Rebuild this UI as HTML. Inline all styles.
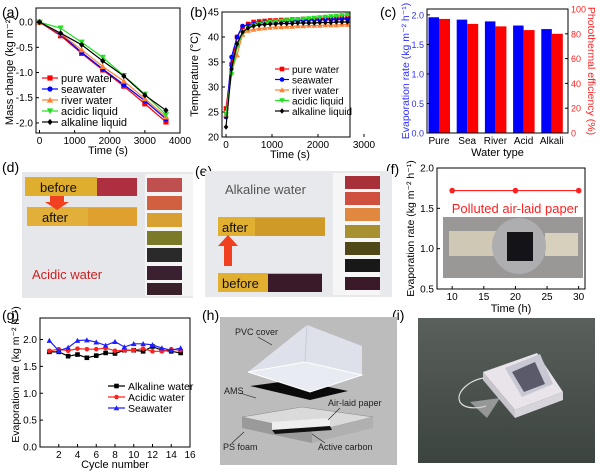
<!DOCTYPE html>
<html><head><meta charset="utf-8">
<style>
html,body{margin:0;padding:0;background:#fff;}
svg{display:block;font-family:"Liberation Sans",Arial,sans-serif;}
</style></head>
<body>
<svg id="fig" width="600" height="472" viewBox="0 0 600 472" xmlns="http://www.w3.org/2000/svg">
<defs>
<linearGradient id="gi" x1="0" y1="0" x2="0" y2="1"><stop offset="0" stop-color="#5a605c"/><stop offset="1" stop-color="#3c4440"/></linearGradient>
</defs>
<!-- panel labels -->
<g font-size="14" fill="#000">
<text x="2" y="17">(a)</text>
<text x="190" y="17">(b)</text>
<text x="380" y="17">(c)</text>
<text x="2" y="172">(d)</text>
<text x="195" y="176">(e)</text>
<text x="386" y="174">(f)</text>
<text x="2" y="320">(g)</text>
<text x="202" y="320">(h)</text>
<text x="392" y="320">(i)</text>
</g>

<!-- panel d photo -->
<g>
<rect x="22" y="172" width="171" height="126" fill="#e6e7ea"/>
<rect x="25" y="177" width="72" height="19" fill="#e0ae2e"/>
<rect x="97" y="178" width="40" height="18" fill="#ae3040"/>
<rect x="27" y="207" width="110" height="19" fill="#e2b038"/>
<rect x="88" y="208" width="49" height="18" fill="#e0a030"/>
<text x="40" y="192" font-size="13" fill="#111">before</text>
<text x="42" y="222" font-size="13" fill="#111">after</text>
<polygon points="50,196 64,196 64,202 69,202 57,210 45,202 50,202" fill="#f04020"/>
<rect x="145" y="174" width="48" height="122" fill="#f4f4f4"/>
<rect x="147" y="178" width="35" height="14" fill="#c05050"/>
<rect x="147" y="196" width="35" height="14" fill="#d06040"/>
<rect x="147" y="213" width="35" height="14" fill="#d8a030"/>
<rect x="147" y="231" width="35" height="14" fill="#7a7a28"/>
<rect x="147" y="248" width="35" height="14" fill="#2a2a2a"/>
<rect x="147" y="266" width="35" height="14" fill="#3a2030"/>
<rect x="147" y="283" width="35" height="12" fill="#3a2028"/>
<text x="32" y="279" font-size="13" fill="#d02020">Acidic water</text>
</g>

<!-- panel e photo -->
<g>
<rect x="205" y="171" width="187" height="126" fill="#e8e9ec"/>
<text x="225" y="194" font-size="13" fill="#555">Alkaline water</text>
<rect x="218" y="217" width="107" height="19" fill="#e2b030"/>
<rect x="255" y="218" width="70" height="18" fill="#d09a28"/>
<text x="222" y="232" font-size="13" fill="#111">after</text>
<rect x="218" y="273" width="104" height="19" fill="#e2b030"/>
<rect x="268" y="274" width="54" height="18" fill="#3a1a28"/>
<text x="222" y="288" font-size="13" fill="#111">before</text>
<polygon points="224,266 232,266 232,246 238,246 228,235 218,246 224,246" fill="#f04020"/>
<rect x="333" y="173" width="47" height="122" fill="#f6f6f6"/>
<rect x="345" y="176" width="35" height="13" fill="#a83038"/>
<rect x="345" y="192" width="35" height="13" fill="#d05040"/>
<rect x="345" y="208" width="35" height="13" fill="#e08840"/>
<rect x="345" y="225" width="35" height="13" fill="#a89030"/>
<rect x="345" y="242" width="35" height="13" fill="#504818"/>
<rect x="345" y="259" width="35" height="13" fill="#181818"/>
<rect x="345" y="277" width="35" height="13" fill="#3a1a28"/>
</g>

<!-- panel h schematic -->
<g>
<rect x="220" y="317" width="177" height="148" fill="#bcbcbc"/>
<polygon points="242,417 302,407 373,417 312,432" fill="#dadada" stroke="#888" stroke-width="0.5"/>
<polygon points="242,417 312,432 312,443 242,428" fill="#9a9a9a"/>
<polygon points="312,432 373,417 373,428 312,443" fill="#b0b0b0"/>
<polygon points="272,422 330,418 330,426 272,430" fill="#eeeeee"/>
<polygon points="272,430 330,426 332,430 275,434" fill="#111"/>
<polygon points="250,386 295,380 348,391 310,400" fill="#0a0a0a"/>
<polygon points="248,372 307,325 362,346 362,375 310,392" fill="#dfe3ec" opacity="0.95"/>
<polygon points="248,372 310,392 362,375 305,362" fill="#e8ecf2" stroke="#fff" stroke-width="1"/>
<line x1="307" y1="325" x2="305" y2="362" stroke="#c8ccd6" stroke-width="1"/>
<g font-size="9" fill="#222">
<text x="235" y="335">PVC cover</text>
<text x="224" y="394">AMS</text>
<text x="328" y="406">Air-laid paper</text>
<text x="223" y="450">PS foam</text>
<text x="318" y="450">Active carbon</text>
</g>
<g stroke="#222" stroke-width="0.6">
<line x1="258" y1="337" x2="272" y2="345"/>
<line x1="240" y1="393" x2="256" y2="398"/>
<line x1="340" y1="408" x2="328" y2="420"/>
<line x1="232" y1="443" x2="244" y2="432"/>
<line x1="325" y1="443" x2="312" y2="434"/>
</g>
</g>

<!-- panel i photo -->
<g>
<rect x="418" y="318" width="177" height="145" fill="url(#gi)"/>
<polygon points="483,372 537,353 563,392 515,410" fill="#e8e4ea"/>
<polygon points="483,372 515,410 515,418 483,380" fill="#c8c4cc"/>
<polygon points="515,410 563,392 563,400 515,418" fill="#d8d4dc"/>
<polygon points="505,368 540,354 553,384 522,397" fill="#c8c8d4"/>
<polygon points="512,372 535,362 545,384 524,392" fill="#5a5a6a"/>
<path d="M484,378 C470,380 455,392 460,402 C465,410 480,408 486,406" stroke="#ddd" fill="none" stroke-width="1.2"/>
<polygon points="470,402 500,398 487,418" fill="#c8c8c8" opacity="0.6"/>
</g>

<!-- panel f photo inset -->
<g>
</g>
</svg>

<script>
const NS = "http://www.w3.org/2000/svg";
const svg = document.getElementById('fig');
function mk(tag, attrs, parent) {
  const e = document.createElementNS(NS, tag);
  for (const k in attrs) e.setAttribute(k, attrs[k]);
  (parent || svg).appendChild(e);
  return e;
}
function scale(d0, d1, p0, p1) { return v => p0 + (v - d0) / (d1 - d0) * (p1 - p0); }
function marker(shape, x, y, color, parent, r) {
  r = r || 3;
  let e;
  if (shape === 'square') e = mk('rect', {x: x - r, y: y - r, width: 2 * r, height: 2 * r, fill: color}, parent);
  else if (shape === 'circle') e = mk('circle', {cx: x, cy: y, r: r, fill: color}, parent);
  else if (shape === 'up') e = mk('polygon', {points: `${x},${y - r - 0.5} ${x + r + 0.5},${y + r} ${x - r - 0.5},${y + r}`, fill: color}, parent);
  else if (shape === 'down') e = mk('polygon', {points: `${x - r - 0.5},${y - r} ${x + r + 0.5},${y - r} ${x},${y + r + 0.5}`, fill: color}, parent);
  else e = mk('polygon', {points: `${x},${y - r - 0.5} ${x + r},${y} ${x},${y + r + 0.5} ${x - r},${y}`, fill: color}, parent);
  return e;
}
function txt(x, y, s, size, anchor, parent, extra) {
  const a = {x: x, y: y, 'font-size': size, 'text-anchor': anchor || 'middle', fill: '#000'};
  if (extra) for (const k in extra) a[k] = extra[k];
  const e = mk('text', a, parent);
  e.textContent = s;
  return e;
}

/* ===== Panel A data ===== */
const aTimes = [0, 600, 1200, 1800, 2400, 3000, 3600];
const aPure = [0, -0.27, -0.62, -0.95, -1.27, -1.62, -1.98];
const aSea = [0, -0.24, -0.60, -0.93, -1.24, -1.56, -1.92];
const aRiver = [0, -0.23, -0.55, -0.88, -1.17, -1.52, -1.88];
const aAcidic = [0, -0.12, -0.40, -0.70, -1.06, -1.43, -1.84];
const aAlkaline = [0, -0.22, -0.45, -0.77, -1.07, -1.45, -1.75];
const aXTicks = [0, 1000, 2000, 3000, 4000];
const aYTicks = [0, -0.5, -1.0, -1.5, -2.0];
const aYLabels = ["0.0", "-0.5", "-1.0", "-1.5", "-2.0"];
const aSeriesNames = ["pure water", "seawater", "river water", "acidic liquid", "alkaline liquid"];

/* ===== Panel B data ===== */
const bTimes = [0,120,240,360,480,600,720,840,960,1080,1200,1320,1440,1560,1680,1800,1920,2040,2160,2280,2400,2520,2640];
const bPure = [25.7,34.5,40.0,42.0,42.6,43.0,43.1,43.2,43.3,43.3,43.4,43.4,43.5,43.5,43.6,43.6,43.6,43.7,43.7,43.7,43.8,43.8,43.8];
const bSea = [24.0,36.0,40.0,42.2,42.3,42.6,42.8,42.9,43.0,43.1,43.1,43.2,43.2,43.3,43.3,43.4,43.4,43.4,43.5,43.5,43.5,43.6,43.6];
const bRiver = [24.5,33.0,36.4,40.5,41.3,41.5,41.7,41.8,41.9,42.0,42.0,42.1,42.1,42.2,42.2,42.3,42.3,42.3,42.4,42.4,42.4,42.5,42.5];
const bAcidic = [24.5,32.5,38.0,40.8,41.8,42.3,42.6,42.8,43.0,43.1,43.2,43.3,43.4,43.5,43.6,43.7,43.8,43.9,44.0,44.1,44.2,44.3,44.4];
const bAlkaline = [22.0,33.6,38.6,41.0,41.8,42.2,42.4,42.5,42.6,42.6,42.7,42.7,42.7,42.8,42.8,42.8,42.8,42.9,42.9,42.9,43.0,43.0,43.0];
const bXTicks = [0, 1000, 2000, 3000];
const bYTicks = [20, 25, 30, 35, 40, 45];

/* ===== Panel C data ===== */
const cCategories = ["Pure", "Sea", "River", "Acid", "Alkali"];
const cRate = [1.96, 1.92, 1.89, 1.82, 1.76];
const cEfficiency = [92, 88, 86, 83, 80];
const cLeftTicks = [0, 0.5, 1.0, 1.5, 2.0];
const cLeftLabels = ["0.0", "0.5", "1.0", "1.5", "2.0"];
const cRightTicks = [0, 20, 40, 60, 80, 100];

/* ===== Panel F data ===== */
const fTimes = [10, 20, 30];
const fRate = [1.72, 1.72, 1.72];
const fXTicks = [10, 15, 20, 25, 30];
const fYTicks = [0.5, 1.0, 1.5, 2.0];
const fYLabels = ["0.5", "1.0", "1.5", "2.0"];

/* ===== Panel G data ===== */
const gCycles = [1,2,3,4,5,6,7,8,9,10,11,12,13,14,15];
const gAlkaline = [1.77,1.77,1.69,1.72,1.66,1.70,1.75,1.74,1.80,1.80,1.78,1.87,1.80,1.78,1.75];
const gAcidic = [1.79,1.82,1.79,1.83,1.82,1.82,1.84,1.79,1.80,1.80,1.83,1.78,1.78,1.82,1.80];
const gSeawater = [1.98,1.79,1.85,1.98,1.99,1.95,1.89,1.96,1.86,1.92,1.92,1.90,1.84,1.80,1.84];
const gXTicks = [2,4,6,8,10,12,14,16];
const gYTicks = [0, 0.5, 1.0, 1.5, 2.0];
const gYLabels = ["0.0", "0.5", "1.0", "1.5", "2.0"];

function frame(x0, y0, x1, y1, name) {
  const r = mk('rect', {x: x0, y: y0, width: x1 - x0, height: y1 - y0, fill: 'none', stroke: '#000', 'stroke-width': 1});
  
  
}
function xTicks(ticks, labels, sx, yb, fs, g) {
  ticks.forEach((t, i) => {
    const x = sx(t);
    if (x >= 0 && x <= 600) {
      mk('line', {x1: x, y1: yb, x2: x, y2: yb - 3, stroke: '#000'}, g);
    }
    const l = txt(x, yb + 11, labels[i], fs, 'middle', g);
    
    
  });
}
function yTicks(ticks, labels, sy, xl, fs, g, side, color) {
  ticks.forEach((t, i) => {
    const y = sy(t);
    const dir = side === 'right' ? -3 : 3;
    mk('line', {x1: xl, y1: y, x2: xl + dir, y2: y, stroke: '#000'}, g);
    const l = txt(side === 'right' ? xl + 3 : xl - 3, y + 3.5, labels[i], fs, side === 'right' ? 'start' : 'end', g, color ? {fill: color} : null);
    
    
  });
}
function series(xs, ys, sx, sy, color, shape, g, name, r) {
  const pts = xs.map((x, i) => sx(x) + ',' + sy(ys[i])).join(' ');
  const pl = mk('polyline', {points: pts, fill: 'none', stroke: color, 'stroke-width': 1.2}, g);
  
  
  xs.forEach((x, i) => {
    const m = marker(shape, sx(x), sy(ys[i]), color, g, r);
    
    
  });
}
function legend(items, x, y, dy, fs, g, len, r) {
  items.forEach((it, i) => {
    const yy = y + i * dy;
    const ln = mk('line', {x1: x, y1: yy, x2: x + len, y2: yy, stroke: it.c, 'stroke-width': 1.2}, g);
    
    
    marker(it.s, x + len / 2, yy, it.c, g, r);
    const t = txt(x + len + 3, yy + 4, it.n, fs, 'start', g);
    
    
  });
}

/* ===== Panel A ===== */
(function () {
  const g = mk('g', {});
  
  
  const X0 = 36, X1 = 180, Y0 = 8, Y1 = 133;
  const sx = scale(-100, 4000, X0, X1), sy = scale(0.28, -2.2, Y0, Y1);
  frame(X0, Y0, X1, Y1, 'plot-frame-a');
  xTicks(aXTicks, aXTicks.map(String), sx, Y1, 10, g);
  yTicks(aYTicks, aYLabels, sy, X0, 10, g);
  const cols = ['#ff0000', '#0000ff', '#ff8030', '#20e020', '#000000'];
  const shapes = ['square', 'circle', 'up', 'down', 'diamond'];
  const data = [aPure, aSea, aRiver, aAcidic, aAlkaline];
  data.forEach((d, i) => series(aTimes, d, sx, sy, cols[i], shapes[i], g, 'a-' + aSeriesNames[i].replace(' ', '-'), 2.6));
  legend(aSeriesNames.map((n, i) => ({n: n, c: cols[i], s: shapes[i]})), 42, 78, 11, 11, g, 16, 2.6);
  const xt = txt((X0 + X1) / 2, 154, 'Time (s)', 11, 'middle', g);
  
  
  const yt = txt(0, 0, 'Mass change (kg m\u207B\u00B2)', 11, 'middle', g, {transform: `translate(13,${(Y0 + Y1) / 2}) rotate(-90)`});
  
  
})();

/* ===== Panel B ===== */
(function () {
  const g = mk('g', {});
  
  
  const X0 = 222, X1 = 350, Y0 = 12, Y1 = 137;
  const sx = scale(-87, 2696, X0, X1), sy = scale(45, 20, Y0, Y1);
  frame(X0, Y0, X1, Y1, 'plot-frame-b');
  xTicks(bXTicks, bXTicks.map(String), sx, Y1, 10, g);
  yTicks(bYTicks, bYTicks.map(String), sy, X0, 10, g);
  const cols = ['#ff0000', '#0000ff', '#ff8030', '#20e020', '#000000'];
  const shapes = ['square', 'circle', 'up', 'down', 'diamond'];
  const data = [bPure, bSea, bRiver, bAcidic, bAlkaline];
  data.forEach((d, i) => series(bTimes, d, sx, sy, cols[i], shapes[i], g, 'b-' + aSeriesNames[i].replace(' ', '-'), 2.3));
  legend(aSeriesNames.map((n, i) => ({n: n, c: cols[i], s: shapes[i]})), 275, 69, 10.5, 10, g, 14, 2.3);
  const xt = txt(290, 158, 'Time (s)', 11, 'middle', g);
  
  
  const yt = txt(0, 0, 'Temperature (\u00B0C)', 11, 'middle', g, {transform: `translate(198,${(Y0 + Y1) / 2}) rotate(-90)`});
  
  
})();

/* ===== Panel C ===== */
(function () {
  const g = mk('g', {});
  
  
  const X0 = 427, X1 = 568, Y0 = 9, Y1 = 133;
  const band = (X1 - X0) / cCategories.length;
  const sl = scale(0, 2.1, Y1, Y0), sr = scale(0, 100, Y1, Y0);
  cCategories.forEach((c, i) => {
    const bx = X0 + i * band + 1.5;
    const b1 = mk('rect', {x: bx, y: sl(cRate[i]), width: 10.5, height: Y1 - sl(cRate[i]), fill: '#0000ff'}, g);
    
    
    const b2 = mk('rect', {x: bx + 10.5, y: sr(cEfficiency[i]), width: 11, height: Y1 - sr(cEfficiency[i]), fill: '#ff0000'}, g);
    
    
    const l = txt(bx + 10.5, Y1 + 11, c, 10, 'middle', g);
    
    
  });
  frame(X0, Y0, X1, Y1, 'plot-frame-c');
  yTicks(cLeftTicks, cLeftLabels, sl, X0, 9, g, 'left', '#3030ff');
  yTicks(cRightTicks, cRightTicks.map(String), sr, X1, 9, g, 'right', '#ff2020');
  const xt = txt((X0 + X1) / 2, 156, 'Water type', 11, 'middle', g);
  
  
  const yt = txt(0, 0, 'Evaporation rate (kg m\u207B\u00B2 h\u207B\u00B9)', 10.5, 'middle', g, {fill: '#3030ff', transform: `translate(409,${(Y0 + Y1) / 2}) rotate(-90)`});
  
  
  const yt2 = txt(0, 0, 'Photothermal efficiency (%)', 10.5, 'middle', g, {fill: '#ff2020', transform: `translate(588,${(Y0 + Y1) / 2}) rotate(90)`});
  
  
})();

/* ===== Panel F ===== */
(function () {
  const g = mk('g', {});
  
  
  const X0 = 437, X1 = 585, Y0 = 168, Y1 = 289;
  const sx = scale(7.6, 31, X0, X1), sy = scale(2.0, 0.5, Y0, Y1);
  // inset photo
  const ph = mk('g', {}, g);
  
  
  mk('rect', {x: 443, y: 217, width: 140, height: 61, fill: '#9a9896'}, ph);
  mk('rect', {x: 449, y: 231, width: 48, height: 25, fill: '#cfc8b4'}, ph);
  mk('rect', {x: 545, y: 233, width: 33, height: 23, fill: '#d6d0bc'}, ph);
  mk('ellipse', {cx: 519, cy: 246, rx: 27, ry: 28, fill: '#aeaeb0'}, ph);
  mk('rect', {x: 507, y: 232, width: 26, height: 29, fill: '#141418'}, ph);
  series(fTimes, fRate, sx, sy, '#ff2020', 'circle', g, 'f-polluted', 2.8);
  frame(X0, Y0, X1, Y1, 'plot-frame-f');
  xTicks(fXTicks, fXTicks.map(String), sx, Y1, 10, g);
  yTicks(fYTicks, fYLabels, sy, X0, 10, g);
  const cap = txt(515, 213, 'Polluted air-laid paper', 13, 'middle', g, {fill: '#ff2020'});
  
  
  const xt = txt((X0 + X1) / 2, 312, 'Time (h)', 11, 'middle', g);
  
  
  const yt = txt(0, 0, 'Evaporation rate (kg m\u207B\u00B2 h\u207B\u00B9)', 10.5, 'middle', g, {transform: `translate(414,${(Y0 + Y1) / 2}) rotate(-90)`});
  
  
})();

/* ===== Panel G ===== */
(function () {
  const g = mk('g', {});
  
  
  const X0 = 40, X1 = 190, Y0 = 318, Y1 = 447;
  const sx = scale(0, 16, X0, X1), sy = scale(2.4, 0, Y0, Y1);
  frame(X0, Y0, X1, Y1, 'plot-frame-g');
  xTicks(gXTicks, gXTicks.map(String), sx, Y1, 10, g);
  yTicks(gYTicks, gYLabels, sy, X0, 10, g);
  series(gCycles, gAlkaline, sx, sy, '#000000', 'square', g, 'g-alkaline', 2.3);
  series(gCycles, gAcidic, sx, sy, '#ff2020', 'circle', g, 'g-acidic', 2.3);
  series(gCycles, gSeawater, sx, sy, '#2020ff', 'up', g, 'g-seawater', 2.3);
  legend([{n: 'Alkaline water', c: '#000000', s: 'square'}, {n: 'Acidic water', c: '#ff2020', s: 'circle'}, {n: 'Seawater', c: '#2020ff', s: 'up'}], 108, 386, 11, 10.5, g, 17, 2.3);
  const xt = txt((X0 + X1) / 2, 468, 'Cycle number', 11, 'middle', g);
  
  
  const yt = txt(0, 0, 'Evaporation rate (kg m\u207B\u00B2 h\u207B\u00B9)', 10.5, 'middle', g, {transform: `translate(19,${(Y0 + Y1) / 2 - 8}) rotate(-90)`});
  
  
})();
</script>
</body></html>
